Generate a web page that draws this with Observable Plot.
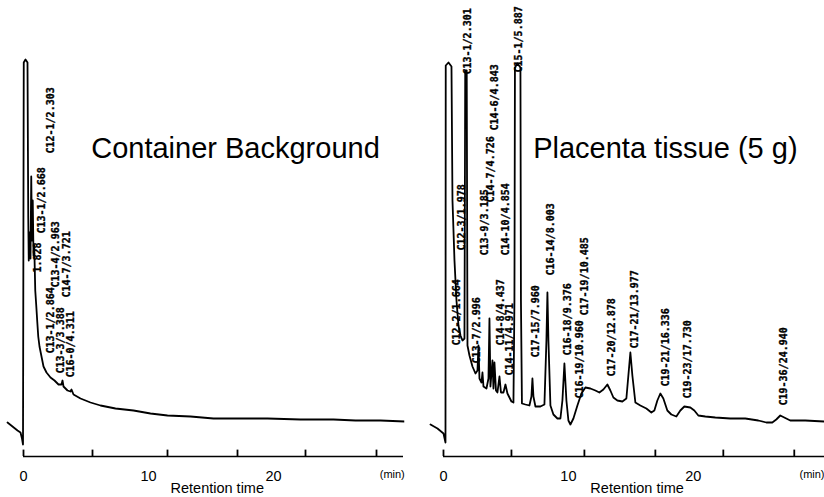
<!DOCTYPE html>
<html><head><meta charset="utf-8">
<script src="https://cdn.jsdelivr.net/npm/d3@7"></script>
<script src="https://cdn.jsdelivr.net/npm/@observablehq/plot@0.6"></script>
<style>
html,body{margin:0;padding:0;background:#fff;}
#chart{display:flex;width:824px;height:497px;overflow:hidden;}
#chart svg{display:block;flex:none;}
</style></head><body><div id="chart"></div>
<script>
// ---- data (time in min, detector response in arbitrary units) ----
const panelTitles = ["Container Background", "Placenta tissue (5 g)"];
const axisTitle = "Retention time";
const unitLabel = "(min)";
const tickLabels = [0, 10, 20];
const leftChartMarks = [0, 5.52, 11.52, 17.12, 22.56, 28.24];
const rightChartMarks = [0, 5.44, 11.28, 16.96, 22.4, 28.08];

const leftTime = [-1.28,-0.88,-0.48,-0.24,-0.12,-0.04,0.02,0.16,0.32,0.38,0.42,0.5,0.56,0.62,0.68,0.74,0.8,0.86,0.94,1.02,1.1,1.18,1.28,1.44,1.6,1.84,2.16,2.48,2.8,3.04,3.12,3.2,3.52,3.76,3.84,4.0,4.56,5.36,6.16,7.36,8.8,10.16,11.52,13.36,15.2,17.36,19.52,22.16,24.8,26.56,28.56,30.5];
const leftSignal = [8.5,7.5,6.5,6,4.5,3,98.5,99.25,98.5,60,49,56,49.5,70,54,64,50.25,52.75,41.5,37.75,33.75,30,27.5,25,22.5,21,19.75,19,18,18,19,17.5,16.5,16.25,16.75,15.5,14.5,13.5,12.75,12,11.5,10.75,10.25,10,9.5,9.5,9.5,9.25,9.25,9,9,8.75];

const rightTime = [-1.04,-0.48,0.0,0.16,0.18,0.4,0.64,0.72,0.88,1.04,1.2,1.36,1.52,1.68,1.74,1.86,1.92,2.08,2.32,2.56,2.72,2.8,2.88,3.04,3.12,3.2,3.44,3.6,3.68,3.76,3.92,4.0,4.08,4.2,4.32,4.48,4.6,4.8,4.96,5.12,5.28,5.44,5.6,5.68,5.72,5.92,6.16,6.2,6.28,6.56,6.88,7.04,7.12,7.2,7.36,7.76,8.08,8.24,8.32,8.4,8.56,8.8,9.12,9.36,9.52,9.68,9.84,10.0,10.16,10.4,10.72,11.04,11.36,11.76,12.16,12.48,12.8,13.12,13.36,13.6,13.92,14.32,14.64,14.8,14.96,15.12,15.36,15.76,16.24,16.64,16.88,17.12,17.36,17.6,17.92,18.24,18.64,18.96,19.28,19.76,20.08,20.4,20.96,21.76,22.96,24.16,25.2,25.84,26.32,26.64,26.96,27.28,27.76,28.96,30.48];
const rightSignal = [8,7,5.75,3.5,97.75,98.5,97.5,64,49,39,32.75,30.25,29,29.5,96.5,96.5,27.75,25.25,22.5,20.75,21.5,27.75,19.5,18.5,21,17.5,17,19.5,34.5,17.5,24,17,23.5,16.5,16,20,16,16,18,15.75,14.75,13.75,13.5,39,97.25,98.25,97.25,39,13.25,13,12.75,15,19.5,15,12.5,12.5,13,29,41,29,12.75,10.5,9.5,9.5,14,23.25,14,9,8,9.5,12.75,15.75,17.25,17,16.5,16,16.75,18,16.5,14.75,14,13.75,14.5,20.25,26,20.25,13.5,12.75,12,11,11.5,14,15.75,14.5,11.5,10.5,10,11.5,12.5,12.25,11.5,10.25,10,9.75,9.5,9.5,9,8.5,8.5,9.25,10.25,9.75,9,9,8.75];

const leftLabelText = ["C12-1/2.303","C13-1/2.668","1.828","C13-4/2.963","C14-7/3.721","C13-1/2.864","C13-3/3.388","C16-0/4.311"];
const leftLabelTime = [2.16,1.44,1.12,2.56,3.44,2.16,2.96,3.76];
const leftLabelLevel = [75.75,55.75,46,42.25,39.75,25.75,20.75,19.75];

const rightLabelText = ["C13-1/2.301","C15-1/5.887","C14-6/4.843","C14-7/4.726","C13-9/3.185","C14-10/4.854","C12-3/1.978","C12-2/1.664","C13-7/2.996","C14-8/4.437","C14-11/4.971","C16-14/8.003","C17-15/7.960","C16-18/9.376","C16-19/10.960","C17-19/10.485","C17-20/12.878","C17-21/13.977","C19-21/16.336","C19-23/17.730","C19-36/24.940"];
const rightLabelTime = [1.92,6.0,4.08,3.76,3.28,4.96,1.44,1.04,2.64,4.56,5.28,8.56,7.36,9.92,10.88,11.28,13.44,15.28,17.76,19.52,27.28];
const rightLabelLevel = [95.5,96,81.5,63.5,50.25,50.25,51.5,27.75,23.25,27.75,20.25,45.25,24.75,25.25,14.5,35.25,20,27,17.5,14.5,12.75];

// ---- drawing ----
function panel({time, signal, labelText, labelTime, labelLevel, chartMarks, title, titleX, marginLeft, marginRight, axisEnd}) {
  const n = Math.min(time.length, signal.length);
  const trace = d3.range(n).map(i => ({t: time[i], v: signal[i]}));
  const labels = labelText.map((s, i) => ({s, t: labelTime[i], v: labelLevel[i]}));
  return Plot.plot({
    width: 412, height: 497,
    marginTop: 56, marginBottom: 41, marginLeft, marginRight,
    x: {domain: [-1.6, 30.5], axis: null},
    y: {domain: [0, 100], axis: null},
    style: {fontFamily: "'Liberation Sans', Arial, Helvetica, sans-serif", background: "white", color: "black", overflow: "visible"},
    marks: [
      Plot.ruleY([0], {x1: 0, x2: axisEnd, stroke: "black", strokeWidth: 1.6}),
      Plot.ruleX(chartMarks, {y1: 0, y2: 1.6, stroke: "black", strokeWidth: 1.8}),
      Plot.axisX(tickLabels, {tickSize: 0, tickPadding: 14, fontSize: 14.5, label: null, fill: "black"}),
      Plot.text([unitLabel], {text: d => d, x: 29.5, frameAnchor: "bottom", dy: 21, fontSize: 11, fill: "black"}),
      Plot.text([axisTitle], {text: d => d, x: 15.5, frameAnchor: "bottom", dy: 32, lineAnchor: "middle", fontSize: 14.5, fill: "black"}),
      Plot.line(trace, {x: "t", y: "v", stroke: "black", strokeWidth: 1.8, strokeLinejoin: "round", clip: true}),
      Plot.text(labels, {x: "t", y: "v", text: "s", rotate: -90, textAnchor: "start", fontFamily: "'DejaVu Sans Mono', monospace", fontWeight: "bold", fontSize: 10, fill: "black", stroke: "black", strokeWidth: 0.35}),
      Plot.text([title], {text: d => d, x: titleX, y: 74.75, lineAnchor: "bottom", fontSize: 29, fill: "black"})
    ]
  });
}

const root = document.getElementById("chart");
root.append(panel({
  time: leftTime, signal: leftSignal,
  labelText: leftLabelText, labelTime: leftLabelTime, labelLevel: leftLabelLevel,
  chartMarks: leftChartMarks, title: panelTitles[0], titleX: 16.96,
  marginLeft: 3, marginRight: 7.75, axisEnd: 30.4
}));
root.append(panel({
  time: rightTime, signal: rightSignal,
  labelText: rightLabelText, labelTime: rightLabelTime, labelLevel: rightLabelLevel,
  chartMarks: rightChartMarks, title: panelTitles[1], titleX: 17.76,
  marginLeft: 11, marginRight: 0, axisEnd: 30.5
}));
</script></body></html>
